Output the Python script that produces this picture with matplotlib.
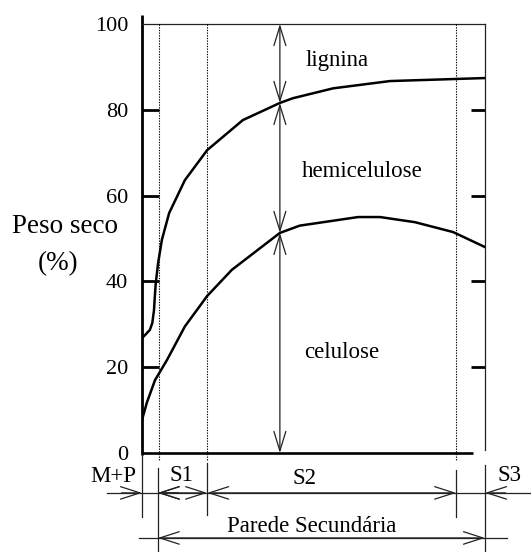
import matplotlib
matplotlib.use("Agg")
import matplotlib.pyplot as plt

plt.rcParams['font.family'] = ['Liberation Serif', 'DejaVu Serif']

# ---- data ----
# position across the cell wall (0 = middle lamella side, 100 = lumen side)
upper_x = [0, 0.9, 2.3, 3.0, 3.5, 3.7, 4.0, 4.7, 5.8, 7.9, 12.5, 19, 29.4, 40.2, 44, 55.7, 72.3, 100]
upper_y = [26.8, 27.5, 28.7, 30.3, 33.3, 36, 39.5, 44.3, 49.7, 55.9, 63.6, 70.6, 77.6, 81.6, 82.7, 85, 86.7, 87.4]  # celulose + hemicelulose
lower_x = [0, 1.4, 3.8, 5, 7.3, 12.5, 19, 26.2, 40.2, 46, 63, 69.4, 79.6, 90.7, 100]
lower_y = [7.7, 11.7, 17, 18.6, 21.7, 29.5, 36.6, 42.7, 51.3, 53, 55, 55, 53.8, 51.5, 48]        # celulose
layer_bounds = [0, 4.6, 19, 91.6, 100]          # M+P | S1 | S2 | S3
layer_labels = ['M+P', 'S1', 'S2', 'S3']
ytick_vals = [0, 20, 40, 60, 80, 100]
ytick_labels = ['0', '20', '40', '60', '80', '100']
arrow_x = 40.2
arrow_levels = [0, 51.3, 81.6, 100]
region_labels = ['celulose', 'hemicelulose', 'lignina']

W, H = 531, 552
fig = plt.figure(figsize=(W / 100, H / 100), dpi=100)
ax = fig.add_axes([142 / W, (H - 453) / H, 343 / W, 429 / H])
ax.set_xlim(0, 100)
ax.set_ylim(0, 100)
for s in ax.spines.values():
    s.set_visible(False)
ax.set_xticks([])

thin = dict(color='#222222', lw=0.9, clip_on=False)

# frame
ax.plot([0, 0], [-0.5, 102], color='black', lw=2.0, clip_on=False, solid_capstyle='butt')
ax.plot([0, 96.5], [0, 0], color='black', lw=1.9, clip_on=False, solid_capstyle='butt')
ax.plot([0, 100], [100, 100], **thin)
ax.plot([100, 100], [100, 0.7], **thin)

# ticks
ax.set_yticks(ytick_vals)
ax.set_yticklabels(ytick_labels, fontsize=16)
ax.tick_params(axis='y', direction='in', length=12, width=2.0, pad=10,
               left=True, right=True, color='black')
for i, t in enumerate(ax.yaxis.get_major_ticks()):
    if ytick_vals[i] in (0, 100):
        t.tick1line.set_visible(False)
        t.tick2line.set_visible(False)
    else:
        t.tick2line.set_markersize(10)

# dotted layer boundaries
for xb in [5.0, layer_bounds[2], layer_bounds[3]]:
    ax.plot([xb, xb], [-1.6, 100], color='black', lw=0.8,
            linestyle=(0, (1.2, 1.2)), clip_on=False)

# curves
ax.plot(upper_x, upper_y, color='black', lw=1.8, solid_joinstyle='round')
ax.plot(lower_x, lower_y, color='black', lw=1.8, solid_joinstyle='round')

def arrow(p_from, p_to, style, hl=14, hw=4.3):
    ax.annotate('', xy=p_to, xytext=p_from, xycoords='data', textcoords='data',
                annotation_clip=False,
                arrowprops=dict(arrowstyle=f'{style},head_length={hl},head_width={hw}',
                                mutation_scale=1, shrinkA=0, shrinkB=0,
                                lw=0.9, color='#222222'))

# vertical double arrows
for a, b in zip(arrow_levels[:-1], arrow_levels[1:]):
    arrow((arrow_x, a), (arrow_x, b), '<->')

# region labels
ax.text(57, 90.2, region_labels[2], fontsize=16.5, ha='center', va='baseline')
ax.text(64.1, 64.3, region_labels[1], fontsize=16.5, ha='center', va='baseline')
ax.text(58.3, 22.1, region_labels[0], fontsize=16.5, ha='center', va='baseline')

# y label
ax.text(-22.4, 51.3, 'Peso seco', fontsize=19.5, ha='center', va='baseline')
ax.text(-24.6, 42.7, '(%)', fontsize=19.5, ha='center', va='baseline')

# bottom brackets
y1, y2 = -9.3, -19.8
ax.plot([-10.2, 113.4], [y1, y1], **thin)
ax.plot([-0.9, 106.4], [y2, y2], **thin)
b0, b1, b2, b3, b4 = layer_bounds
ax.plot([b0, b0], [-0.5, -14.9], **thin)
ax.plot([b1, b1], [-3.5, -23.3], **thin)
ax.plot([b2, b2], [-2.3, -14.5], **thin)
ax.plot([b3, b3], [-4.0, -14.9], **thin)
ax.plot([b4, b4], [-2.8, -23.3], **thin)

hl, hw = 14, 4.5
arrow((b0 - 6, y1), (b0, y1), '->', hl, hw)
arrow((b1 + 6, y1), (b1, y1), '->', hl, hw)
arrow((b1, y1), (b2, y1), '<->', hl, hw)
arrow((b2, y1), (b3, y1), '<->', hl, hw)
arrow((b4 + 6, y1), (b4, y1), '->', hl, hw)
arrow((b1, y2), (b4, y2), '<->', hl, hw)

ax.text(-8.5, -6.76, layer_labels[0], fontsize=16.5, ha='center', va='baseline')
ax.text(11.4, -6.5, layer_labels[1], fontsize=16.5, ha='center', va='baseline')
ax.text(47.4, -7.2, layer_labels[2], fontsize=16.5, ha='center', va='baseline')
ax.text(107, -6.5, layer_labels[3], fontsize=16.5, ha='center', va='baseline')
ax.text(49.6, -18.4, 'Parede Secundária', fontsize=16.5, ha='center', va='baseline')

fig.savefig('out.png', dpi=100)
